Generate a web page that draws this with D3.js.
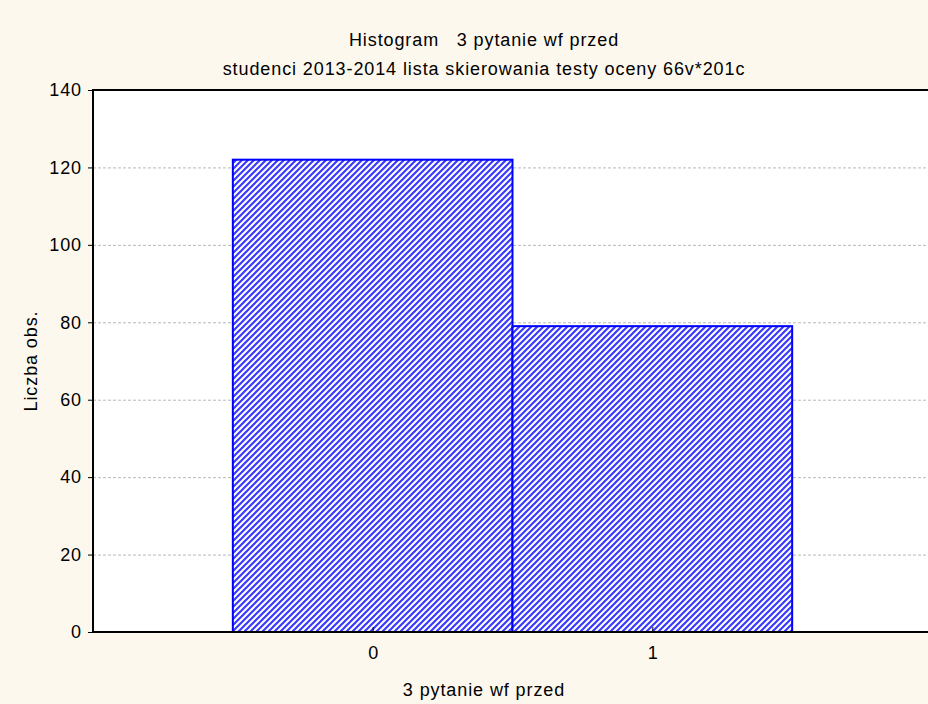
<!DOCTYPE html>
<html>
<head>
<meta charset="utf-8">
<script src="https://cdn.jsdelivr.net/npm/d3@7"></script>
<style>
  html, body { margin: 0; padding: 0; background: #fdf8ee; overflow: hidden; }
  svg { display: block; font-family: "Liberation Sans", Arial, sans-serif; }
</style>
</head>
<body>
<svg id="chart" width="928" height="704"></svg>
<script>
// Histogram data: answer categories and observed counts
const categories = [0, 1];
const counts = [122, 79];
const yTicks = [0, 20, 40, 60, 80, 100, 120, 140];
const titleLines = ["Histogram   3 pytanie wf przed",
                    "studenci 2013-2014 lista skierowania testy oceny 66v*201c"];
const xLabel = "3 pytanie wf przed";
const yLabel = "Liczba obs.";

const W = 928, H = 704;
const FONT = 18, SPACING = 0.9;
// the plot area runs slightly past the right edge of the canvas
const margin = { left: 93, top: 90, right: -4, bottom: 72 };
const svg = d3.select("#chart");

const x = d3.scaleLinear().domain([-1, 2]).range([margin.left, W - margin.right]);
const y = d3.scaleLinear().domain([0, 140]).range([H - margin.bottom, margin.top]);

// hatch fill for the bars
const defs = svg.append("defs");
const pat = defs.append("pattern")
  .attr("id", "hatch").attr("patternUnits", "userSpaceOnUse")
  .attr("width", 6).attr("height", 6);
pat.append("rect").attr("width", 6).attr("height", 6).attr("fill", "#ffffff");
pat.append("path")
  .attr("d", "M-1,1 l2,-2 M0,6 l6,-6 M5,7 l2,-2")
  .attr("stroke", "#3a3aff").attr("stroke-width", 2.2);

// plot background
svg.append("rect")
  .attr("x", x(-1)).attr("y", y(140))
  .attr("width", x(2) - x(-1)).attr("height", y(0) - y(140))
  .attr("fill", "#ffffff");

// dashed grid lines
svg.append("g").selectAll("line")
  .data(yTicks.filter(d => d > 0 && d < 140))
  .join("line")
  .attr("x1", x(-1)).attr("x2", x(2))
  .attr("y1", d => y(d) + 0.5).attr("y2", d => y(d) + 0.5)
  .attr("stroke", "#b8b8b8").attr("stroke-width", 1)
  .attr("stroke-dasharray", "3,2");

// bars
svg.append("g").selectAll("rect")
  .data(categories.map((c, i) => ({ c, n: counts[i] })))
  .join("rect")
  .attr("x", d => x(d.c - 0.5))
  .attr("y", d => y(d.n))
  .attr("width", d => x(d.c + 0.5) - x(d.c - 0.5))
  .attr("height", d => y(0) - y(d.n))
  .attr("fill", "url(#hatch)")
  .attr("stroke", "#0000ff").attr("stroke-width", 2);

// frame: top, bottom and left edges
const frame = svg.append("g").attr("stroke", "#000").attr("stroke-width", 2).attr("fill", "none");
frame.append("line").attr("x1", x(-1) - 1).attr("x2", x(2)).attr("y1", y(140)).attr("y2", y(140));
frame.append("line").attr("x1", x(-1) - 1).attr("x2", x(2)).attr("y1", y(0)).attr("y2", y(0));
frame.append("line").attr("x1", x(-1)).attr("x2", x(-1)).attr("y1", y(140)).attr("y2", y(0));

// y axis
const yAxis = svg.append("g")
  .attr("transform", `translate(${x(-1)},0)`)
  .call(d3.axisLeft(y).tickValues(yTicks).tickSize(5).tickPadding(6).tickFormat(d3.format("d")));
yAxis.select(".domain").remove();
yAxis.selectAll("text").attr("font-size", FONT).attr("fill", "#000")
  .attr("letter-spacing", SPACING)
  .attr("font-family", "Liberation Sans, Arial, sans-serif");
yAxis.selectAll("line").attr("stroke", "#000");

// x axis (ticks pointing into the plot)
const xAxis = svg.append("g")
  .attr("transform", `translate(0,${y(0)})`)
  .call(d3.axisBottom(x).tickValues(categories).tickSize(-5).tickPadding(14).tickFormat(d3.format("d")));
xAxis.select(".domain").remove();
xAxis.selectAll("text").attr("font-size", FONT).attr("fill", "#000")
  .attr("font-family", "Liberation Sans, Arial, sans-serif");
xAxis.selectAll("line").attr("stroke", "#000");

// titles
svg.append("g").selectAll("text").data(titleLines).join("text")
  .attr("x", 484).attr("y", (d, i) => 46 + i * 29)
  .attr("text-anchor", "middle").attr("font-size", FONT).attr("fill", "#000")
  .attr("letter-spacing", SPACING)
  .style("white-space", "pre")
  .text(d => d);

svg.append("text")
  .attr("x", 484).attr("y", 696)
  .attr("text-anchor", "middle").attr("font-size", FONT).attr("fill", "#000")
  .attr("letter-spacing", SPACING)
  .text(xLabel);

svg.append("text")
  .attr("transform", `translate(37,${(y(0) + y(140)) / 2}) rotate(-90)`)
  .attr("text-anchor", "middle").attr("font-size", FONT).attr("fill", "#000")
  .attr("letter-spacing", SPACING)
  .text(yLabel);
</script>
</body>
</html>
